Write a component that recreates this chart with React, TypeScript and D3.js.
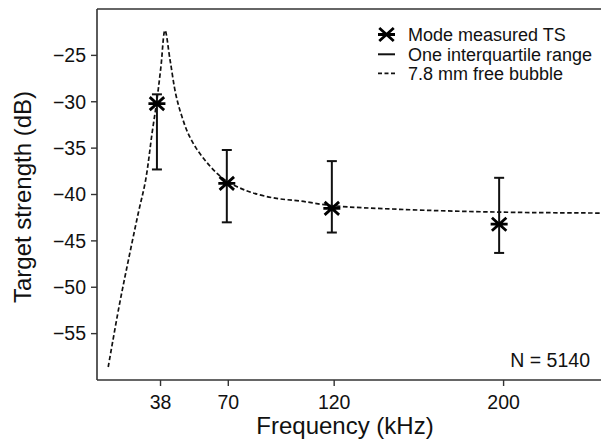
import React from "react";
import * as d3 from "d3";

const xTicks = [38, 70, 120, 200];
const yTicks = [-25, -30, -35, -40, -45, -50, -55];

const modeFreq = [36.3, 69.3, 118.9, 197.9];
const modeTS = [-30.2, -38.8, -41.5, -43.2];
const iqrLow = [-37.3, -43.0, -44.1, -46.3];
const iqrHigh = [-29.2, -35.2, -36.4, -38.2];

const bubbleFreq = [13.3, 18.4, 22.8, 27.5, 31.0, 34.0, 36.3, 38.2, 40.1, 42.5, 45.3, 48.1, 51.0, 54.8, 59.0, 63.7, 69.4, 75.5, 81.2, 92.1, 103.9, 119.0, 151.1, 198.3, 245.5];
const bubbleTS = [-58.6, -52.1, -47.1, -42.0, -38.4, -33.4, -29.8, -26.2, -22.3, -25.5, -29.3, -31.6, -33.4, -35.0, -36.3, -37.5, -38.6, -39.3, -39.8, -40.4, -40.7, -41.2, -41.6, -41.9, -42.0];

const legendLabels = ["Mode measured TS", "One interquartile range", "7.8 mm free bubble"];

const W = 601, H = 443;
const L = 97, R = 601, T = 9, B = 380;
const FONT = "'Liberation Sans', Arial, Helvetica, sans-serif";
const AX = "#333";

function Star({ cx, cy }: { cx: number; cy: number }) {
  const hw = 8.5, hh = 6.5;
  const d = `M${cx - hw},${cy}L${cx + hw},${cy}M${cx - hw * 0.85},${cy - hh}L${cx + hw * 0.85},${cy + hh}M${cx - hw * 0.85},${cy + hh}L${cx + hw * 0.85},${cy - hh}`;
  return <path d={d} stroke="#000" strokeWidth={2.8} fill="none" />;
}

export default function App() {
  const x = d3.scaleLinear().domain([8, 246]).range([L, R]);
  const y = d3.scaleLinear().domain([-60, -20]).range([B, T]);
  const pts = bubbleFreq.map((f, i) => [f, bubbleTS[i]] as [number, number]);
  const line = d3
    .line<[number, number]>()
    .x((d) => x(d[0]))
    .y((d) => y(d[1]))
    .curve(d3.curveCatmullRom.alpha(0.5));

  return (
    <svg width={W} height={H} style={{ position: "absolute", left: 0, top: 0, background: "#fff" }} fontFamily={FONT}>
      <rect x={0} y={0} width={W} height={H} fill="#fff" />
      <line x1={L} y1={T} x2={R} y2={T} stroke={AX} strokeWidth={1.6} />
      <line x1={L} y1={T} x2={L} y2={B} stroke={AX} strokeWidth={1.6} />
      <line x1={L} y1={B} x2={R} y2={B} stroke={AX} strokeWidth={1.6} />
      {yTicks.map((t) => (
        <g key={t}>
          <line x1={L - 6} x2={L} y1={y(t)} y2={y(t)} stroke={AX} strokeWidth={1.4} />
          <text x={L - 11} y={y(t)} dy="0.35em" textAnchor="end" fontSize={19.5} fill="#111">
            {"\u2212" + Math.abs(t)}
          </text>
        </g>
      ))}
      {xTicks.map((t) => (
        <g key={t}>
          <line x1={x(t)} x2={x(t)} y1={B} y2={B + 6} stroke={AX} strokeWidth={1.4} />
          <text x={x(t)} y={409} textAnchor="middle" fontSize={19.5} fill="#111">
            {t}
          </text>
        </g>
      ))}
      <text x={345} y={434} textAnchor="middle" fontSize={24} fill="#111">
        Frequency (kHz)
      </text>
      <text transform={`translate(31,197) rotate(-90)`} textAnchor="middle" fontSize={24} fill="#111">
        Target strength (dB)
      </text>
      <path d={line(pts) || ""} fill="none" stroke="#111" strokeWidth={1.7} strokeDasharray="4.5,2.5" />
      {modeFreq.map((f, i) => (
        <g key={f} stroke="#111" strokeWidth={2}>
          <line x1={x(f)} x2={x(f)} y1={y(iqrLow[i])} y2={y(iqrHigh[i])} />
          <line x1={x(f) - 5} x2={x(f) + 5} y1={y(iqrLow[i])} y2={y(iqrLow[i])} />
          <line x1={x(f) - 5} x2={x(f) + 5} y1={y(iqrHigh[i])} y2={y(iqrHigh[i])} />
        </g>
      ))}
      {modeFreq.map((f, i) => (
        <Star key={f} cx={x(f)} cy={y(modeTS[i])} />
      ))}
      <Star cx={386.5} cy={34.5} />
      <line x1={378} x2={395} y1={54.3} y2={54.3} stroke="#111" strokeWidth={2} />
      <line x1={378} x2={395} y1={73.3} y2={73.3} stroke="#111" strokeWidth={1.7} strokeDasharray="4,2.5" />
      {legendLabels.map((l, i) => (
        <text key={l} x={408} y={[41, 61, 80][i]} fontSize={18} fill="#111">
          {l}
        </text>
      ))}
      <text x={590} y={367} textAnchor="end" fontSize={19.5} fill="#111">
        N = 5140
      </text>
    </svg>
  );
}
